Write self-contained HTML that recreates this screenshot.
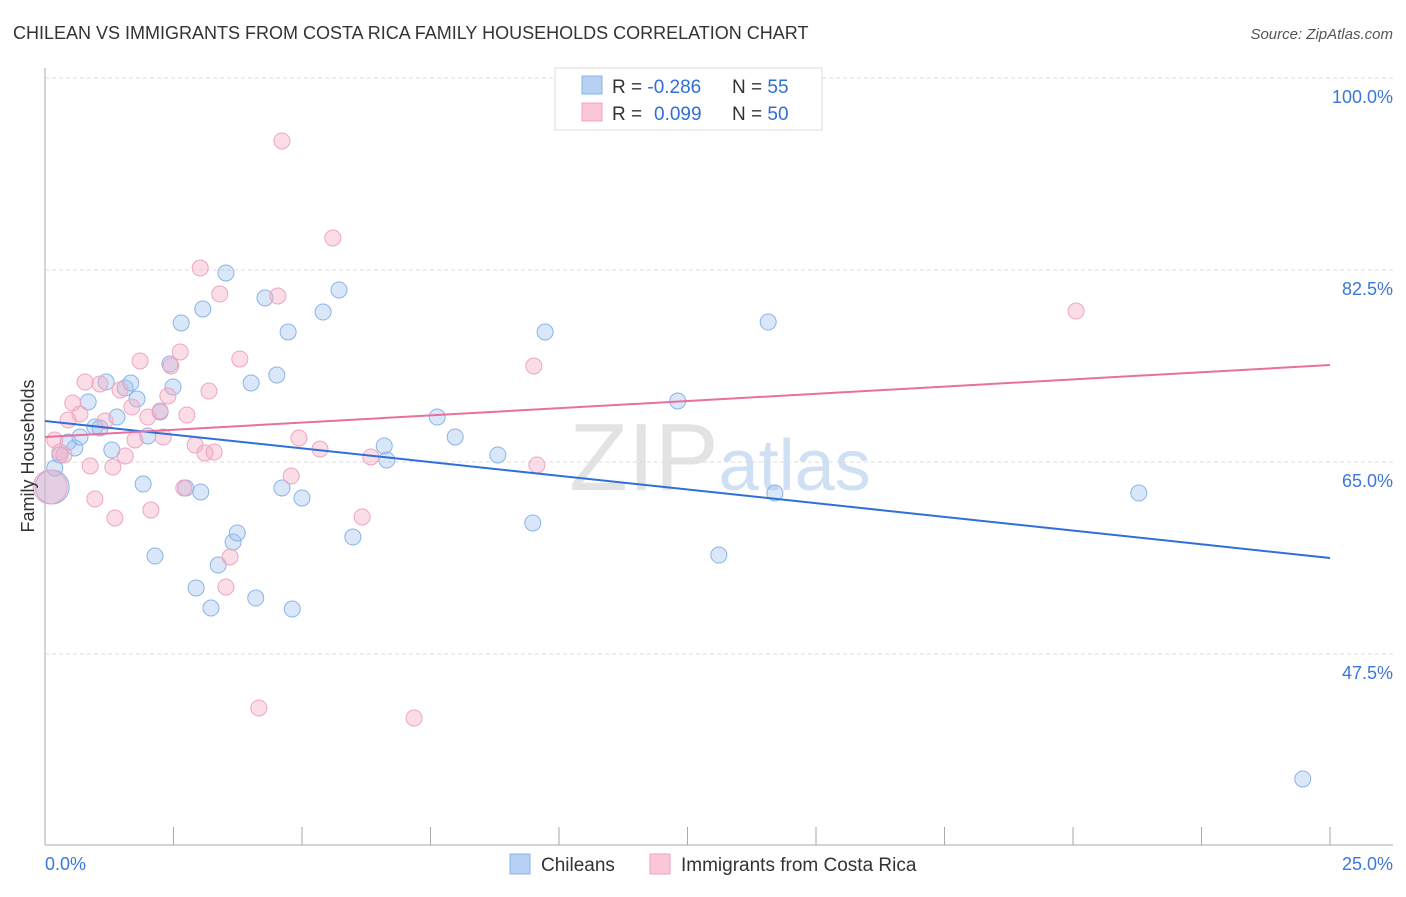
<!DOCTYPE html>
<html><head><meta charset="utf-8"><style>
body{margin:0;background:#fff;font-family:"Liberation Sans",sans-serif;}
svg text{font-family:"Liberation Sans",sans-serif;}
</style></head><body>
<svg id="chart" width="1406" height="892" viewBox="0 0 1406 892">
<text x="13" y="39" font-size="18" fill="#333">CHILEAN VS IMMIGRANTS FROM COSTA RICA FAMILY HOUSEHOLDS CORRELATION CHART</text>
<text x="1393" y="39" font-size="15" fill="#555" text-anchor="end" font-style="italic">Source: ZipAtlas.com</text>
<text x="720" y="490" font-size="96" fill="#e3e3e3" text-anchor="middle" font-family="Liberation Serif">ZIP<tspan fill="#cfe0f5" font-family="Liberation Sans" font-size="72">atlas</tspan></text>
<g id="grid"></g>
<g id="axes"></g>
<g id="pts"></g>
<g id="lines"></g>
<text transform="translate(34,456) rotate(-90)" font-size="18" fill="#333" text-anchor="middle">Family Households</text>
<g>
<rect x="555" y="68" width="267" height="62" fill="#fff" stroke="#ddd"/>
<rect x="582" y="76" width="20" height="18" fill="#b6d1f3" stroke="#8ab4e8"/>
<rect x="582" y="103" width="20" height="18" fill="#fbc6d6" stroke="#eea6bf"/>
<text x="612" y="93" font-size="19" fill="#333">R = <tspan fill="#2f6fd6">-0.286</tspan><tspan x="732">N = </tspan><tspan fill="#2f6fd6">55</tspan></text>
<text x="612" y="120" font-size="19" fill="#333">R = <tspan fill="#2f6fd6" x="654">0.099</tspan><tspan x="732">N = </tspan><tspan fill="#2f6fd6">50</tspan></text>
</g>
<g>
<rect x="510" y="854" width="20" height="20" fill="#b6d1f3" stroke="#8ab4e8"/>
<text x="541" y="871" font-size="19" fill="#333">Chileans</text>
<rect x="650" y="854" width="20" height="20" fill="#fbc6d6" stroke="#eea6bf"/>
<text x="681" y="871" font-size="19" fill="#333">Immigrants from Costa Rica</text>
</g>
</svg>
<script>
const xTicks=[0,2.5,5,7.5,10,12.5,15,17.5,20,22.5,25];
const yTicks=[47.5,65,82.5,100];
const yTickLabels=["47.5%","65.0%","82.5%","100.0%"];
const xLabels=["0.0%","25.0%"];
const blueX=[0.14,0.19,0.29,0.58,0.45,0.68,0.84,0.97,1.07,1.19,1.30,1.40,1.56,1.67,1.79,1.91,2.00,2.14,2.24,2.43,2.49,2.65,2.74,2.94,3.03,3.07,3.23,3.37,3.66,3.74,3.52,4.01,4.10,4.28,4.51,4.61,4.73,4.81,5.00,5.41,5.72,5.99,6.60,6.65,7.63,7.98,8.81,9.49,9.73,12.31,13.11,14.07,14.20,21.28,24.47];
const blueY=[62.72,64.45,65.64,66.28,66.82,67.28,70.47,68.19,68.10,72.29,66.09,69.10,71.75,72.20,70.74,62.99,67.37,56.43,69.56,73.93,71.84,77.67,62.63,53.52,62.27,78.95,51.69,55.61,57.71,58.53,82.23,72.20,52.60,79.95,72.93,62.63,76.85,51.60,61.72,78.67,80.68,58.16,66.46,65.18,69.10,67.28,65.64,59.44,76.85,70.56,56.52,77.76,62.17,62.17,36.11];
const pinkX=[0.10,0.19,0.29,0.37,0.45,0.54,0.68,0.78,0.97,0.88,1.07,1.17,1.36,1.32,1.46,1.56,1.75,1.69,1.85,2.00,2.06,2.24,2.30,2.39,2.45,2.63,2.70,2.76,2.92,3.02,3.11,3.19,3.29,3.40,3.52,3.60,3.79,4.16,4.53,4.61,4.79,4.94,5.35,5.60,6.17,6.34,7.18,9.51,9.57,20.06];
const pinkY=[62.72,67.01,65.91,65.64,68.83,70.38,69.38,72.29,61.63,64.64,72.11,68.74,59.90,64.54,71.56,65.55,67.01,70.01,74.21,69.10,60.62,69.65,67.28,71.02,73.75,75.03,62.63,69.28,66.55,82.68,65.82,71.47,65.91,80.31,53.61,56.34,74.39,42.58,80.13,94.26,63.72,67.19,66.18,85.42,59.99,65.46,41.67,73.75,64.73,78.76];
const blueTrend=[68.74,56.25];
const pinkTrend=[67.28,73.84];
const X=v=>45+v/25*1285;
const Y=v=>462-(v-65)*10.971;
const NS="http://www.w3.org/2000/svg";
function mk(tag,attrs,parent){const e=document.createElementNS(NS,tag);for(const k in attrs)e.setAttribute(k,attrs[k]);parent.appendChild(e);return e;}
const grid=document.getElementById('grid'),axes=document.getElementById('axes'),pts=document.getElementById('pts'),lines=document.getElementById('lines');
yTicks.forEach((t,i)=>{
 const l=mk('line',{x1:45,x2:1393,y1:Y(t),y2:Y(t),stroke:'#ddd','stroke-dasharray':'4,3'},grid);
 
 
 const tx=mk('text',{x:1393,y:Y(t)+25,'font-size':18,fill:'#3a78d8','text-anchor':'end'},axes);
 tx.textContent=yTickLabels[i];
 
 
});
const ya=mk('line',{x1:45,x2:45,y1:68,y2:845,stroke:'#aaa'},axes);


const xa=mk('line',{x1:45,x2:1393,y1:845,y2:845,stroke:'#aaa'},axes);


xTicks.forEach(t=>{
 const l=mk('line',{x1:X(t),x2:X(t),y1:827,y2:845,stroke:'#aaa'},axes);
 
 
});
[[0,'start',45],[25,'end',1393]].forEach((d,i)=>{
 const tx=mk('text',{x:d[2],y:870,'font-size':18,fill:'#3a78d8','text-anchor':d[1]},axes);
 tx.textContent=xLabels[i];
 
 
});
function dots(xs,ys,fill,stroke,name){
 xs.forEach((x,i)=>{
  const c=mk('circle',{cx:X(x),cy:Y(ys[i]),r:i===0?17:8,fill:fill,stroke:stroke,'stroke-width':1},pts);
  
  
 });
}
dots(blueX,blueY,'rgba(160,195,240,0.4)','#8ab4e8','chilean-point');
dots(pinkX,pinkY,'rgba(245,170,195,0.4)','#eea6bf','costa-rica-point');
const bl=mk('line',{x1:X(0),x2:X(25),y1:Y(blueTrend[0]),y2:Y(blueTrend[1]),stroke:'#2f6fd6','stroke-width':2},lines);


const pl=mk('line',{x1:X(0),x2:X(25),y1:Y(pinkTrend[0]),y2:Y(pinkTrend[1]),stroke:'#e8709a','stroke-width':2},lines);


</script>
</body></html>
